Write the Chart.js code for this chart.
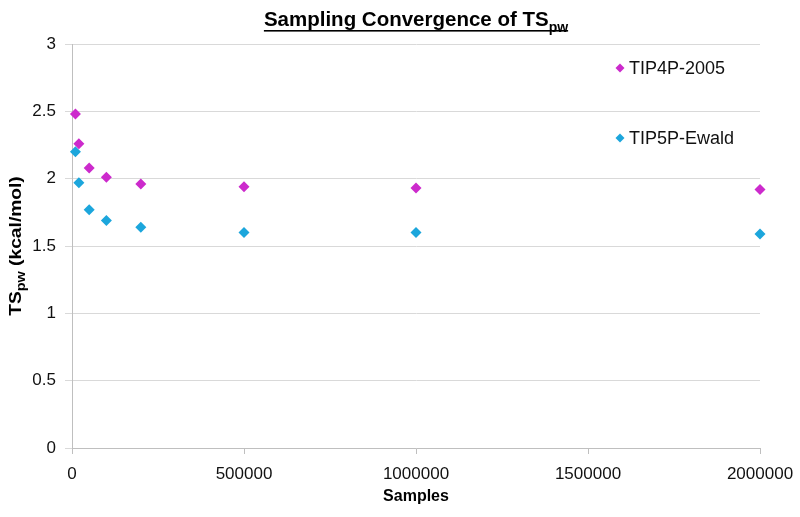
<!DOCTYPE html>
<html>
<head>
<meta charset="utf-8">
<script src="https://cdn.jsdelivr.net/npm/chart.js@4.4.1/dist/chart.umd.min.js"></script>
<style>
  html, body { margin: 0; padding: 0; background: #fff; }
  #wrap { width: 800px; height: 517px; }
</style>
</head>
<body>
<div id="wrap"><canvas id="chart" width="800" height="517"></canvas></div>
<script>
// Data
const samples = [10000, 20000, 50000, 100000, 200000, 500000, 1000000, 2000000];
const tip4p = [2.48, 2.26, 2.08, 2.01, 1.96, 1.94, 1.93, 1.92];
const tip5p = [2.20, 1.97, 1.77, 1.69, 1.64, 1.60, 1.60, 1.59];
const seriesNames = ['TIP4P-2005', 'TIP5P-Ewald'];
const seriesColors = ['#CC2ACC', '#1CA6DC'];
const xTicks = [0, 500000, 1000000, 1500000, 2000000];
const yTicks = [0, 0.5, 1, 1.5, 2, 2.5, 3];

const FONT = 'Arial, "Liberation Sans", sans-serif';

function toPoints(xs, ys) {
    return xs.map((x, i) => ({ x: x, y: ys[i] }));
}

// draw "main" + subscript (+ trailing) text, returns width
function subText(ctx, main, sub, after, x, y, size, subSize, measureOnly) {
    ctx.font = 'bold ' + size + 'px ' + FONT;
    const w1 = ctx.measureText(main).width;
    ctx.font = 'bold ' + subSize + 'px ' + FONT;
    const w2 = ctx.measureText(sub).width;
    ctx.font = 'bold ' + size + 'px ' + FONT;
    const w3 = after ? ctx.measureText(after).width : 0;
    if (!measureOnly) {
        ctx.textAlign = 'left';
        ctx.textBaseline = 'alphabetic';
        ctx.fillText(main, x, y);
        ctx.font = 'bold ' + subSize + 'px ' + FONT;
        ctx.fillText(sub, x + w1, y + size * 0.28);
        if (after) {
            ctx.font = 'bold ' + size + 'px ' + FONT;
            ctx.fillText(after, x + w1 + w2, y);
        }
    }
    return w1 + w2 + w3;
}

const decorations = {
    id: 'decorations',
    afterDraw(chart) {
        const ctx = chart.ctx;
        const area = chart.chartArea;
        ctx.save();
        ctx.fillStyle = '#000';

        // title with subscript and underline
        const tw = subText(ctx, 'Sampling Convergence of TS', 'pw', '', 0, 0, 20.5, 14, true);
        const tx = (area.left + area.right) / 2 - tw / 2;
        subText(ctx, 'Sampling Convergence of TS', 'pw', '', tx, 26, 20.5, 14, false);
        ctx.fillRect(tx, 30, tw, 1.6);

        // y axis title, rotated (stretched a little along its length like the reference)
        ctx.save();
        ctx.translate(21, (area.top + area.bottom) / 2);
        ctx.rotate(-Math.PI / 2);
        ctx.scale(1.2, 1);
        const yw = subText(ctx, 'TS', 'pw', ' (kcal/mol)', 0, 0, 16, 12, true);
        subText(ctx, 'TS', 'pw', ' (kcal/mol)', -yw / 2, 0, 16, 12, false);
        ctx.restore();

        // legend in upper right of plot
        const lx = 620;
        const ly = [68, 138];
        chart.data.datasets.forEach((ds, i) => {
            const cy = ly[i];
            ctx.fillStyle = ds.backgroundColor;
            ctx.beginPath();
            ctx.moveTo(lx, cy - 4.5);
            ctx.lineTo(lx + 4.5, cy);
            ctx.lineTo(lx, cy + 4.5);
            ctx.lineTo(lx - 4.5, cy);
            ctx.closePath();
            ctx.fill();
            ctx.fillStyle = '#111';
            ctx.font = '18px ' + FONT;
            ctx.textAlign = 'left';
            ctx.textBaseline = 'middle';
            ctx.fillText(ds.label, lx + 9, cy + 1);
        });
        ctx.restore();
    }
};

new Chart(document.getElementById('chart').getContext('2d'), {
    type: 'scatter',
    data: {
        datasets: [
            {
                label: seriesNames[0],
                data: toPoints(samples, tip4p),
                backgroundColor: seriesColors[0],
                borderColor: seriesColors[0],
                pointStyle: 'rectRot',
                pointRadius: 5.5,
                borderWidth: 0,
                clip: false
            },
            {
                label: seriesNames[1],
                data: toPoints(samples, tip5p),
                backgroundColor: seriesColors[1],
                borderColor: seriesColors[1],
                pointStyle: 'rectRot',
                pointRadius: 5.5,
                borderWidth: 0,
                clip: false
            }
        ]
    },
    options: {
        responsive: false,
        animation: false,
        layout: { padding: { top: 44, right: 40, left: 0, bottom: 0 } },
        plugins: {
            legend: { display: false },
            title: { display: false },
            tooltip: { enabled: false }
        },
        scales: {
            x: {
                type: 'linear',
                min: 0,
                max: 2000000,
                afterBuildTicks: (scale) => { scale.ticks = xTicks.map(v => ({ value: v })); },
                grid: { drawOnChartArea: false, drawTicks: true, tickLength: 6, color: '#bfbfbf' },
                border: { color: '#bfbfbf' },
                ticks: {
                    font: { family: FONT, size: 17 },
                    color: '#111',
                    padding: 10,
                    maxRotation: 0,
                    callback: (v) => String(v)
                },
                title: {
                    display: true,
                    text: 'Samples',
                    font: { family: FONT, size: 16, weight: 'bold' },
                    color: '#000',
                    padding: { top: 4, bottom: 11 }
                },
                afterFit: (scale) => {
                    scale.height = 69;
                    scale.paddingLeft = 0;
                    scale.paddingRight = 0;
                }
            },
            y: {
                min: 0,
                max: 3,
                afterBuildTicks: (scale) => { scale.ticks = yTicks.map(v => ({ value: v })); },
                grid: { color: '#d9d9d9', tickLength: 7, drawTicks: true },
                border: { color: '#bfbfbf' },
                ticks: {
                    font: { family: FONT, size: 17 },
                    color: '#111',
                    padding: 9,
                    callback: (v) => String(v)
                },
                afterFit: (scale) => { scale.width = 72; }
            }
        }
    },
    plugins: [decorations]
});
</script>
</body>
</html>
